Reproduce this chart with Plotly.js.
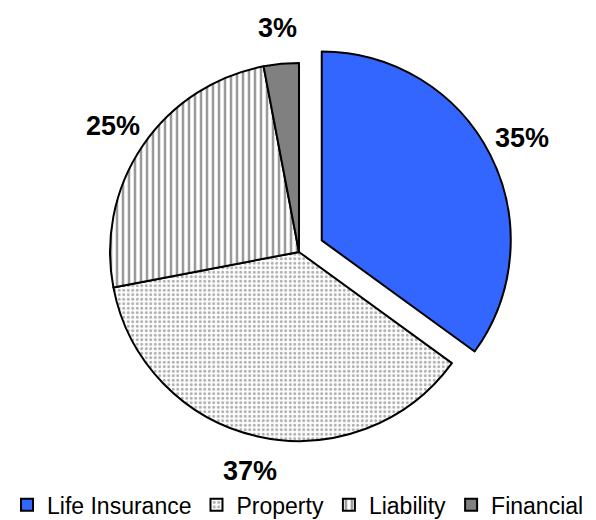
<!DOCTYPE html>
<html>
<head>
<meta charset="utf-8">
<script src="https://cdn.plot.ly/plotly-3.0.1.min.js"></script>
<style>html,body{margin:0;padding:0;background:#fff;}#chart{width:596px;height:520px;}</style>
</head>
<body>
<div id="chart"></div>
<script>
const categories = ['Life Insurance', 'Property', 'Liability', 'Financial'];
const shares = [35, 37, 25, 3];
const pulls = [0.135, 0, 0, 0];

const sliceColors = ['#3366ff', '#ffffff', '#ffffff', '#808080'];
const patternShapes = ['', '.', '|', ''];
const patternFg = ['#3366ff', '#b0b0b0', '#9a9a9a', '#808080'];
const patternBg = ['#3366ff', '#ffffff', '#ffffff', '#808080'];
const patternSize = [5, 4.5, 6, 5];
const patternSolidity = [0.4, 0.35, 0.42, 0.4];

const W = 596, H = 520;
const dom = {x: [0.1418, 0.8616], y: [0.1029, 0.9279]};
const labelRadius = 1.19;

// Label positions derived from the data (slice mid-angles) and the pie geometry
const total = shares.reduce((a, b) => a + b, 0);
const maxPull = Math.max(...pulls);
const boxW = (dom.x[1] - dom.x[0]) * W, boxH = (dom.y[1] - dom.y[0]) * H;
const R = Math.min(boxW, boxH) / (2 * (1 + maxPull));
const cx = (dom.x[0] + dom.x[1]) / 2 * W;
const cy = (1 - (dom.y[0] + dom.y[1]) / 2) * H;
let cum = 0;
const annotations = shares.map((v, i) => {
  const mid = (cum + v / 2) / total * 2 * Math.PI;
  cum += v;
  const sx = Math.sin(mid), sy = -Math.cos(mid);
  const px = cx + sx * R * (labelRadius + pulls[i]);
  const py = cy + sy * R * (labelRadius + pulls[i]);
  return {
    x: px / W, y: 1 - py / H, xref: 'paper', yref: 'paper',
    xanchor: 'center', yanchor: 'middle', showarrow: false,
    text: Math.round(v / total * 100) + '%',
    font: {family: 'Liberation Sans, Arial, sans-serif', size: 27, color: '#000', weight: 'bold'}
  };
});

const trace = {
  type: 'pie',
  labels: categories,
  values: shares,
  sort: false,
  direction: 'clockwise',
  rotation: 0,
  pull: pulls,
  domain: dom,
  textinfo: 'none',
  hoverinfo: 'label+percent',
  automargin: false,
  marker: {
    colors: sliceColors,
    line: {color: '#000000', width: 2},
    pattern: {shape: patternShapes, fgcolor: patternFg, bgcolor: patternBg, size: patternSize, solidity: patternSolidity, fillmode: 'replace'}
  }
};

const layout = {
  width: W, height: H,
  margin: {l: 0, r: 0, t: 0, b: 0, autoexpand: false},
  paper_bgcolor: '#ffffff',
  showlegend: true,
  legend: {
    orientation: 'h', x: 0.5, xanchor: 'center', y: -0.012, yanchor: 'bottom',
    font: {family: 'Liberation Sans, Arial, sans-serif', size: 23, color: '#000'},
    traceorder: 'normal', itemwidth: 30
  },
  annotations: annotations,
  font: {family: 'Liberation Sans, Arial, sans-serif'}
};

Plotly.newPlot('chart', [trace], layout, {displayModeBar: false, staticPlot: true});
</script>
</body>
</html>
